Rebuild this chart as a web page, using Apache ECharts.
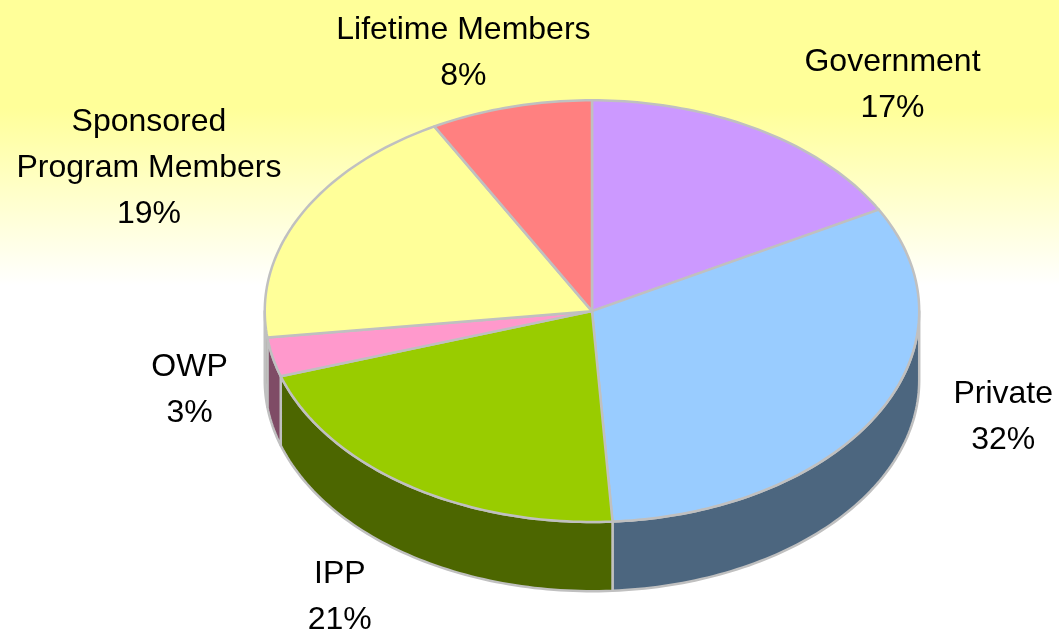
<!doctype html>
<html>
<head>
  <meta charset="utf-8">
  <title>index</title>
  <script src="https://cdn.jsdelivr.net/npm/echarts@6/dist/echarts.min.js"></script>
  <style>
    html, body { margin: 0; padding: 0; }
    #main { width: 1059px; height: 635px; }
  </style>
</head>
<body>
  <div id="main"></div>
  <script>
    // slices clockwise from 12 o'clock
    var categories = ['Government', 'Private', 'IPP', 'OWP', 'Sponsored\nProgram Members', 'Lifetime Members'];
    var shares = [17, 32, 21, 3, 19, 8];
    var topColors = ['#cc99ff', '#99ccff', '#99cc00', '#ff99cc', '#ffff99', '#ff8080'];
    // small hand nudges for the labels (px), like the dragged labels of the original
    var labelNudge = [[64, -4], [4, -40], [9, 45], [51, 5], [-29, -33], [-13, -7]];

    var total = shares.reduce(function (a, b) { return a + b }, 0);
    var acc = 0;
    var pieData = shares.map(function (v) {
      var s = acc / total;
      acc += v;
      return [v, s, acc / total];
    });

    function darker(hex) {
      var n = parseInt(hex.slice(1), 16);
      var r = (n >> 16) >> 1, g = ((n >> 8) & 255) >> 1, b = (n & 255) >> 1;
      return 'rgb(' + r + ',' + g + ',' + b + ')';
    }

    function renderItem(params, api) {
      var i = params.dataIndex;
      var W = api.getWidth(), H = api.getHeight();
      var cx = W * 0.559, cy = H * 0.49, rx = W * 0.309, ry = H * 0.332, depth = H * 0.109;
      var t0 = api.value(1) * Math.PI * 2, t1 = api.value(2) * Math.PI * 2;
      function pt(t, dz) { return [cx + rx * Math.sin(t), cy - ry * Math.cos(t) + (dz || 0)]; }
      function arc(a, b, dz) {
        var pts = [], n = Math.max(2, Math.ceil((b - a) / 0.02));
        for (var k = 0; k <= n; k++) pts.push(pt(a + (b - a) * k / n, dz));
        return pts;
      }
      var stroke = { stroke: '#c0c0c0', lineWidth: 2.5, lineJoin: 'round' };
      var children = [];

      // visible side wall: front half of the rim
      var a = Math.max(t0, Math.PI / 2), b = Math.min(t1, Math.PI * 1.5);
      if (a < b) {
        var side = arc(a, b, 0).concat(arc(a, b, depth).reverse());
        children.push({
          type: 'polygon', z2: 1,
          shape: { points: side },
          style: Object.assign({ fill: darker(topColors[i]) }, stroke)
        });
      }

      children.push({
        type: 'polygon', z2: 2,
        shape: { points: [[cx, cy]].concat(arc(t0, t1, 0)) },
        style: Object.assign({ fill: topColors[i] }, stroke)
      });

      var tm = (t0 + t1) / 2;
      var lx = cx + rx * 1.42 * Math.sin(tm) + labelNudge[i][0];
      var ly = cy + 14 - ry * 1.3 * Math.cos(tm) + labelNudge[i][1];
      children.push({
        type: 'text', z2: 3,
        style: {
          text: categories[i] + '\n' + Math.round(api.value(0) / total * 100) + '%',
          x: lx, y: ly,
          align: 'center', verticalAlign: 'middle',
          fill: '#000',
          fontFamily: 'Liberation Sans, Arial, sans-serif',
          fontSize: 32,
          lineHeight: 46
        }
      });

      return { type: 'group', children: children };
    }

    var chart = echarts.init(document.getElementById('main'), null, { renderer: 'canvas' });
    chart.setOption({
      animation: false,
      graphic: [{
        type: 'rect', z: -10, left: 0, top: 0,
        shape: { width: 1059, height: 635 },
        style: {
          fill: new echarts.graphic.LinearGradient(0, 0, 0, 1, [
            { offset: 0, color: '#ffff99' },
            { offset: 0.17, color: '#ffff99' },
            { offset: 0.45, color: '#ffffff' },
            { offset: 1, color: '#ffffff' }
          ])
        }
      }],
      series: [{
        type: 'custom',
        coordinateSystem: 'none',
        renderItem: renderItem,
        data: pieData
      }]
    });
  </script>
</body>
</html>
